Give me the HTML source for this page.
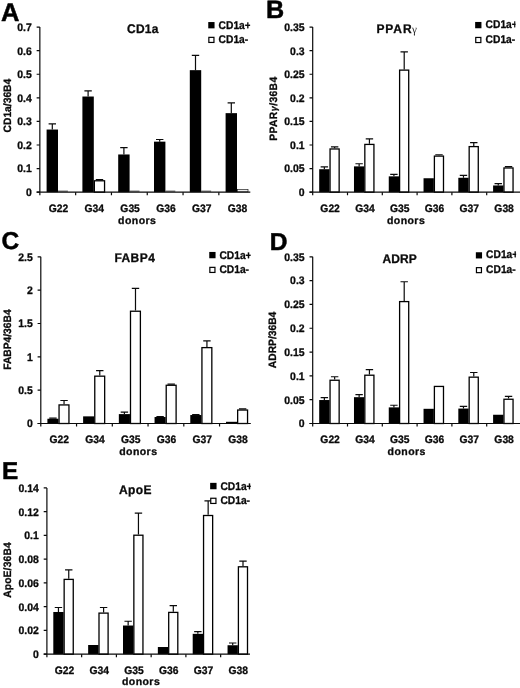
<!DOCTYPE html>
<html lang="en"><head><meta charset="utf-8"><title>Figure: CD1a, PPARγ, FABP4, ADRP, ApoE expression</title>
<style>
html,body{margin:0;padding:0;background:#fff;}
body{width:520px;height:688px;overflow:hidden;}
svg{display:block;filter:blur(0.4px);}
text{font-family:"Liberation Sans", Arial, Helvetica, sans-serif;font-weight:bold;fill:#0a0a0a;stroke:#0a0a0a;stroke-width:0.3px;stroke-linejoin:round;text-rendering:geometricPrecision;}
.t{font-size:10.9px;}
.xl{font-size:10.75px;}
.dn{font-size:10.5px;letter-spacing:0.45px;}
.yl{font-size:10.7px;}
.tt{font-size:12.5px;}
.L{fill:#000;stroke:#000;stroke-width:0.5px;}
.lg{font-size:11.15px;}
.gm{font-family:"Liberation Sans",sans-serif;font-weight:bold;font-style:italic;font-size:9.5px;}
.gt{font-family:"Liberation Serif","DejaVu Serif",serif;font-weight:normal;font-size:11.5px;stroke:none;fill:#222;}
.k{fill:#000;}
.w{fill:#fff;stroke:#000;stroke-width:1.3;}
.w2{fill:#eee;stroke:#222;stroke-width:0.7;}
.w3{fill:none;stroke:#333;stroke-width:0.9;}
.e{fill:none;stroke:#0a0a0a;stroke-width:1.2;}
.ax{fill:none;stroke:#0a0a0a;stroke-width:1.2;}
</style></head><body>
<svg width="520" height="688" viewBox="0 0 520 688">
<rect width="520" height="688" fill="#fff"/>
<g>
<path d="M52.3 129.54V123.84M48.6 123.84H56" class="e"/>
<rect x="46.6" y="129.54" width="11.4" height="62.61" class="k"/>
<path d="M58 191.15H67.9" class="w3"/>
<path d="M88.1 96.52V90.83M84.4 90.83H91.8" class="e"/>
<path d="M99.5 180.12V179.53M95.8 179.53H103.2" class="e"/>
<rect x="82.4" y="96.52" width="11.4" height="95.63" class="k"/>
<rect x="94.35" y="180.78" width="10.2" height="11.38" class="w"/>
<path d="M123.9 154.47V147.59M120.2 147.59H127.6" class="e"/>
<rect x="118.2" y="154.47" width="11.4" height="37.68" class="k"/>
<path d="M129.6 191.15H139.5" class="w3"/>
<path d="M159.7 141.65V139.51M156 139.51H163.4" class="e"/>
<rect x="154" y="141.65" width="11.4" height="50.5" class="k"/>
<path d="M165.4 191.15H175.3" class="w3"/>
<path d="M195.5 70.16V55.44M191.8 55.44H199.2" class="e"/>
<rect x="189.8" y="70.16" width="11.4" height="121.99" class="k"/>
<path d="M201.2 191.15H211.1" class="w3"/>
<path d="M231.3 113.15V102.94M227.6 102.94H235" class="e"/>
<rect x="225.6" y="113.15" width="11.4" height="79" class="k"/>
<rect x="237.4" y="189.56" width="10.6" height="2.29" class="w2"/>
<path d="M39.85 27.1V192.15M36.65 192.15H250.3" class="ax"/>
<text transform="translate(31.75 196) scale(0.96 1)" class="t" text-anchor="end">0</text>
<text transform="translate(31.75 172.42) scale(0.96 1)" class="t" text-anchor="end">0.1</text>
<text transform="translate(31.75 148.84) scale(0.96 1)" class="t" text-anchor="end">0.2</text>
<text transform="translate(31.75 125.26) scale(0.96 1)" class="t" text-anchor="end">0.3</text>
<text transform="translate(31.75 101.69) scale(0.96 1)" class="t" text-anchor="end">0.4</text>
<text transform="translate(31.75 78.11) scale(0.96 1)" class="t" text-anchor="end">0.5</text>
<text transform="translate(31.75 54.53) scale(0.96 1)" class="t" text-anchor="end">0.6</text>
<text transform="translate(31.75 30.95) scale(0.96 1)" class="t" text-anchor="end">0.7</text>
<path d="M36.65 192.15H39.85M36.65 168.57H39.85M36.65 144.99H39.85M36.65 121.41H39.85M36.65 97.84H39.85M36.65 74.26H39.85M36.65 50.68H39.85M36.65 27.1H39.85M39.85 192.15V195.25M75.65 192.15V195.25M111.45 192.15V195.25M147.25 192.15V195.25M183.05 192.15V195.25M218.85 192.15V195.25" class="ax"/>
<text transform="translate(58.5 212.15) scale(0.96 1)" class="xl" text-anchor="middle">G22</text>
<text transform="translate(94.3 212.15) scale(0.96 1)" class="xl" text-anchor="middle">G34</text>
<text transform="translate(130.1 212.15) scale(0.96 1)" class="xl" text-anchor="middle">G35</text>
<text transform="translate(165.9 212.15) scale(0.96 1)" class="xl" text-anchor="middle">G36</text>
<text transform="translate(201.7 212.15) scale(0.96 1)" class="xl" text-anchor="middle">G37</text>
<text transform="translate(237.5 212.15) scale(0.96 1)" class="xl" text-anchor="middle">G38</text>
<text transform="translate(118.1 223.5)" class="dn">donors</text>
<text transform="translate(11.1 105.6) rotate(-90) scale(0.96 1)" class="yl" text-anchor="middle">CD1a/36B4</text>
<text transform="translate(127 33.2) scale(0.96 1)" class="tt"><tspan letter-spacing="0.25">CD1a</tspan></text>
<text x="0.9" y="20.6" class="L" font-size="25.5">A</text>
<clipPath id="cA"><rect x="203.25" y="12.05" width="46.95" height="40"/></clipPath>
<g clip-path="url(#cA)">
<rect x="208.25" y="22.05" width="6.3" height="6.3" class="k"/>
<rect x="208.85" y="37.35" width="5.1" height="5.1" class="w" style="stroke-width:1.2"/>
<text transform="translate(218.6 28.8) scale(0.92 1)" class="lg">CD1a+</text>
<text transform="translate(218.6 43.2) scale(0.92 1)" class="lg">CD1a-</text>
</g>
</g>
<g>
<path d="M324.35 169.22V166.85M320.65 166.85H328.05" class="e"/>
<path d="M334.65 148.32V146.9M330.95 146.9H338.35" class="e"/>
<rect x="319.2" y="169.22" width="10.3" height="22.93" class="k"/>
<rect x="330.05" y="148.97" width="9.1" height="43.18" class="w"/>
<path d="M359.13 166.38V163.76M355.43 163.76H362.83" class="e"/>
<path d="M369.43 143.76V138.82M365.73 138.82H373.13" class="e"/>
<rect x="353.98" y="166.38" width="10.3" height="25.78" class="k"/>
<rect x="364.83" y="144.41" width="9.1" height="47.74" class="w"/>
<path d="M393.91 176.35V174.45M390.21 174.45H397.61" class="e"/>
<path d="M404.21 69.47V51.9M400.51 51.9H407.91" class="e"/>
<rect x="388.76" y="176.35" width="10.3" height="15.8" class="k"/>
<rect x="399.61" y="70.12" width="9.1" height="122.03" class="w"/>
<path d="M438.99 155.45V154.74M435.29 154.74H442.69" class="e"/>
<rect x="423.54" y="178.25" width="10.3" height="13.9" class="k"/>
<rect x="434.39" y="156.1" width="9.1" height="36.05" class="w"/>
<path d="M463.47 177.78V175.4M459.77 175.4H467.17" class="e"/>
<path d="M473.77 145.95V142.62M470.07 142.62H477.47" class="e"/>
<rect x="458.32" y="177.78" width="10.3" height="14.38" class="k"/>
<rect x="469.17" y="146.6" width="9.1" height="45.55" class="w"/>
<path d="M498.25 185.47V183.57M494.55 183.57H501.95" class="e"/>
<path d="M508.55 167.32V166.61M504.85 166.61H512.25" class="e"/>
<rect x="493.1" y="185.47" width="10.3" height="6.68" class="k"/>
<rect x="503.95" y="167.97" width="9.1" height="24.18" class="w"/>
<path d="M312.7 27.1V192.15M309.5 192.15H520" class="ax"/>
<text transform="translate(304.6 196) scale(0.96 1)" class="t" text-anchor="end">0</text>
<text transform="translate(304.6 172.42) scale(0.96 1)" class="t" text-anchor="end">0.05</text>
<text transform="translate(304.6 148.84) scale(0.96 1)" class="t" text-anchor="end">0.1</text>
<text transform="translate(304.6 125.26) scale(0.96 1)" class="t" text-anchor="end">0.15</text>
<text transform="translate(304.6 101.69) scale(0.96 1)" class="t" text-anchor="end">0.2</text>
<text transform="translate(304.6 78.11) scale(0.96 1)" class="t" text-anchor="end">0.25</text>
<text transform="translate(304.6 54.53) scale(0.96 1)" class="t" text-anchor="end">0.3</text>
<text transform="translate(304.6 30.95) scale(0.96 1)" class="t" text-anchor="end">0.35</text>
<path d="M309.5 192.15H312.7M309.5 168.57H312.7M309.5 144.99H312.7M309.5 121.41H312.7M309.5 97.84H312.7M309.5 74.26H312.7M309.5 50.68H312.7M309.5 27.1H312.7M312.7 192.15V195.25M347.5 192.15V195.25M382.3 192.15V195.25M417.1 192.15V195.25M451.9 192.15V195.25M486.7 192.15V195.25" class="ax"/>
<text transform="translate(330.1 212.45) scale(0.96 1)" class="xl" text-anchor="middle">G22</text>
<text transform="translate(364.9 212.45) scale(0.96 1)" class="xl" text-anchor="middle">G34</text>
<text transform="translate(399.7 212.45) scale(0.96 1)" class="xl" text-anchor="middle">G35</text>
<text transform="translate(434.5 212.45) scale(0.96 1)" class="xl" text-anchor="middle">G36</text>
<text transform="translate(469.3 212.45) scale(0.96 1)" class="xl" text-anchor="middle">G37</text>
<text transform="translate(504.1 212.45) scale(0.96 1)" class="xl" text-anchor="middle">G38</text>
<text transform="translate(386.9 223.6)" class="dn">donors</text>
<text transform="translate(277.2 108.6) rotate(-90) scale(0.96 1)" class="yl" text-anchor="middle"><tspan letter-spacing="0.42">PPAR<tspan class="gm">γ</tspan>/36B4</tspan></text>
<text transform="translate(376.4 33) scale(0.96 1)" class="tt"><tspan letter-spacing="0.95">PPAR</tspan><tspan class="gt" dx="-0.6">γ</tspan></text>
<text x="265.9" y="18.2" class="L" font-size="25.2">B</text>
<clipPath id="cB"><rect x="470.15" y="11.95" width="45.45" height="40"/></clipPath>
<g clip-path="url(#cB)">
<rect x="475.15" y="21.95" width="6.3" height="6.3" class="k"/>
<rect x="475.75" y="37.45" width="5.1" height="5.1" class="w" style="stroke-width:1.2"/>
<text transform="translate(485.6 28.3) scale(0.92 1)" class="lg">CD1a+</text>
<text transform="translate(485.6 43) scale(0.92 1)" class="lg">CD1a-</text>
</g>
</g>
<g>
<path d="M52.95 418.75V418.22M49.25 418.22H56.65" class="e"/>
<path d="M64.05 404.28V400.49M60.35 400.49H67.75" class="e"/>
<rect x="47.4" y="418.75" width="11.1" height="4.75" class="k"/>
<rect x="59.05" y="404.93" width="9.9" height="18.57" class="w"/>
<path d="M99.77 375.52V370.54M96.07 370.54H103.47" class="e"/>
<rect x="83.12" y="416.36" width="11.1" height="7.14" class="k"/>
<rect x="94.77" y="376.17" width="9.9" height="47.33" class="w"/>
<path d="M124.39 414.1V412.18M120.69 412.18H128.09" class="e"/>
<path d="M135.49 310.58V288.47M131.79 288.47H139.19" class="e"/>
<rect x="118.84" y="414.1" width="11.1" height="9.4" class="k"/>
<rect x="130.49" y="311.23" width="9.9" height="112.27" class="w"/>
<path d="M160.11 417.02V416.63M156.41 416.63H163.81" class="e"/>
<path d="M171.21 384.62V384.22M167.51 384.22H174.91" class="e"/>
<rect x="154.56" y="417.02" width="11.1" height="6.48" class="k"/>
<rect x="166.21" y="385.27" width="9.9" height="38.23" class="w"/>
<path d="M195.83 415.03V414.63M192.13 414.63H199.53" class="e"/>
<path d="M206.93 346.97V340.8M203.23 340.8H210.63" class="e"/>
<rect x="190.28" y="415.03" width="11.1" height="8.47" class="k"/>
<rect x="201.93" y="347.62" width="9.9" height="75.88" class="w"/>
<path d="M242.65 409.39V408.92M238.95 408.92H246.35" class="e"/>
<rect x="226" y="421.8" width="11.1" height="1.7" class="k"/>
<rect x="237.65" y="410.04" width="9.9" height="13.46" class="w"/>
<path d="M40.8 256.8V423.5M37.6 423.5H250.8" class="ax"/>
<text transform="translate(32.7 427.35) scale(0.96 1)" class="t" text-anchor="end">0</text>
<text transform="translate(32.7 394.01) scale(0.96 1)" class="t" text-anchor="end">0.5</text>
<text transform="translate(32.7 360.67) scale(0.96 1)" class="t" text-anchor="end">1</text>
<text transform="translate(32.7 327.33) scale(0.96 1)" class="t" text-anchor="end">1.5</text>
<text transform="translate(32.7 293.99) scale(0.96 1)" class="t" text-anchor="end">2</text>
<text transform="translate(32.7 260.65) scale(0.96 1)" class="t" text-anchor="end">2.5</text>
<path d="M37.6 423.5H40.8M37.6 390.16H40.8M37.6 356.82H40.8M37.6 323.48H40.8M37.6 290.14H40.8M37.6 256.8H40.8M40.8 423.5V426.6M76.55 423.5V426.6M112.3 423.5V426.6M148.05 423.5V426.6M183.8 423.5V426.6M219.55 423.5V426.6" class="ax"/>
<text transform="translate(59.27 443.2) scale(0.96 1)" class="xl" text-anchor="middle">G22</text>
<text transform="translate(95.02 443.2) scale(0.96 1)" class="xl" text-anchor="middle">G34</text>
<text transform="translate(130.78 443.2) scale(0.96 1)" class="xl" text-anchor="middle">G35</text>
<text transform="translate(166.53 443.2) scale(0.96 1)" class="xl" text-anchor="middle">G36</text>
<text transform="translate(202.28 443.2) scale(0.96 1)" class="xl" text-anchor="middle">G37</text>
<text transform="translate(238.03 443.2) scale(0.96 1)" class="xl" text-anchor="middle">G38</text>
<text transform="translate(119.15 455)" class="dn">donors</text>
<text transform="translate(11.2 339.6) rotate(-90) scale(0.96 1)" class="yl" text-anchor="middle">FABP4/36B4</text>
<text transform="translate(114.4 262.3) scale(0.96 1)" class="tt"><tspan letter-spacing="0.45">FABP4</tspan></text>
<text x="1.5" y="249" class="L" font-size="24.5">C</text>
<clipPath id="cC"><rect x="204.25" y="241.95" width="46.35" height="40"/></clipPath>
<g clip-path="url(#cC)">
<rect x="209.25" y="251.95" width="6.3" height="6.3" class="k"/>
<rect x="209.85" y="267.35" width="5.1" height="5.1" class="w" style="stroke-width:1.2"/>
<text transform="translate(219.4 258.5) scale(0.92 1)" class="lg">CD1a+</text>
<text transform="translate(219.4 273.2) scale(0.92 1)" class="lg">CD1a-</text>
</g>
</g>
<g>
<path d="M324.35 400.03V397.65M320.65 397.65H328.05" class="e"/>
<path d="M334.65 379.6V376.75M330.95 376.75H338.35" class="e"/>
<rect x="319.2" y="400.03" width="10.3" height="23.47" class="k"/>
<rect x="330.05" y="380.25" width="9.1" height="43.25" class="w"/>
<path d="M359.13 397.18V394.56M355.43 394.56H362.83" class="e"/>
<path d="M369.43 374.56V369.62M365.73 369.62H373.13" class="e"/>
<rect x="353.98" y="397.18" width="10.3" height="26.32" class="k"/>
<rect x="364.83" y="375.21" width="9.1" height="48.29" class="w"/>
<path d="M393.91 407.39V405.25M390.21 405.25H397.61" class="e"/>
<path d="M404.21 300.94V281.75M400.51 281.75H407.91" class="e"/>
<rect x="388.76" y="407.39" width="10.3" height="16.11" class="k"/>
<rect x="399.61" y="301.59" width="9.1" height="121.91" class="w"/>
<rect x="423.54" y="408.81" width="10.3" height="14.69" class="k"/>
<rect x="434.39" y="386.43" width="9.1" height="37.07" class="w"/>
<path d="M463.47 408.57V406.44M459.77 406.44H467.17" class="e"/>
<path d="M473.77 376.51V372.48M470.07 372.48H477.47" class="e"/>
<rect x="458.32" y="408.57" width="10.3" height="14.93" class="k"/>
<rect x="469.17" y="377.16" width="9.1" height="46.34" class="w"/>
<path d="M508.55 398.6V396.46M504.85 396.46H512.25" class="e"/>
<rect x="493.1" y="414.75" width="10.3" height="8.75" class="k"/>
<rect x="503.95" y="399.25" width="9.1" height="24.25" class="w"/>
<path d="M312.7 256.8V423.5M309.5 423.5H520" class="ax"/>
<text transform="translate(304.6 427.35) scale(0.96 1)" class="t" text-anchor="end">0</text>
<text transform="translate(304.6 403.54) scale(0.96 1)" class="t" text-anchor="end">0.05</text>
<text transform="translate(304.6 379.72) scale(0.96 1)" class="t" text-anchor="end">0.1</text>
<text transform="translate(304.6 355.91) scale(0.96 1)" class="t" text-anchor="end">0.15</text>
<text transform="translate(304.6 332.09) scale(0.96 1)" class="t" text-anchor="end">0.2</text>
<text transform="translate(304.6 308.28) scale(0.96 1)" class="t" text-anchor="end">0.25</text>
<text transform="translate(304.6 284.46) scale(0.96 1)" class="t" text-anchor="end">0.3</text>
<text transform="translate(304.6 260.65) scale(0.96 1)" class="t" text-anchor="end">0.35</text>
<path d="M309.5 423.5H312.7M309.5 399.69H312.7M309.5 375.87H312.7M309.5 352.06H312.7M309.5 328.24H312.7M309.5 304.43H312.7M309.5 280.61H312.7M309.5 256.8H312.7M312.7 423.5V426.6M347.5 423.5V426.6M382.3 423.5V426.6M417.1 423.5V426.6M451.9 423.5V426.6M486.7 423.5V426.6" class="ax"/>
<text transform="translate(330.1 442.8) scale(0.96 1)" class="xl" text-anchor="middle">G22</text>
<text transform="translate(364.9 442.8) scale(0.96 1)" class="xl" text-anchor="middle">G34</text>
<text transform="translate(399.7 442.8) scale(0.96 1)" class="xl" text-anchor="middle">G35</text>
<text transform="translate(434.5 442.8) scale(0.96 1)" class="xl" text-anchor="middle">G36</text>
<text transform="translate(469.3 442.8) scale(0.96 1)" class="xl" text-anchor="middle">G37</text>
<text transform="translate(504.1 442.8) scale(0.96 1)" class="xl" text-anchor="middle">G38</text>
<text transform="translate(387.6 455.05)" class="dn">donors</text>
<text transform="translate(276.1 339.9) rotate(-90) scale(0.96 1)" class="yl" text-anchor="middle">ADRP/36B4</text>
<text transform="translate(382.5 262.5) scale(0.96 1)" class="tt"><tspan letter-spacing="0.1">ADRP</tspan></text>
<text x="269.7" y="249.7" class="L" font-size="24.5">D</text>
<clipPath id="cD"><rect x="470.85" y="242.25" width="45.25" height="40"/></clipPath>
<g clip-path="url(#cD)">
<rect x="475.85" y="252.25" width="6.2" height="6.2" class="k"/>
<rect x="476.45" y="267.65" width="5" height="5" class="w" style="stroke-width:1.2"/>
<text transform="translate(486.1 258.3) scale(0.92 1)" class="lg">CD1a+</text>
<text transform="translate(486.1 273) scale(0.92 1)" class="lg">CD1a-</text>
</g>
</g>
<g>
<path d="M58.45 611.99V607.48M54.75 607.48H62.15" class="e"/>
<path d="M68.75 578.74V569.95M65.05 569.95H72.45" class="e"/>
<rect x="53.3" y="611.99" width="10.3" height="42.21" class="k"/>
<rect x="64.15" y="579.39" width="9.1" height="74.81" class="w"/>
<path d="M103.6 612.46V607.48M99.9 607.48H107.3" class="e"/>
<rect x="88.15" y="645" width="10.3" height="9.2" class="k"/>
<rect x="99" y="613.11" width="9.1" height="41.09" class="w"/>
<path d="M128.15 625.52V621.25M124.45 621.25H131.85" class="e"/>
<path d="M138.45 534.56V513.19M134.75 513.19H142.15" class="e"/>
<rect x="123" y="625.52" width="10.3" height="28.68" class="k"/>
<rect x="133.85" y="535.21" width="9.1" height="118.99" class="w"/>
<path d="M173.3 611.75V605.58M169.6 605.58H177" class="e"/>
<rect x="157.85" y="647.02" width="10.3" height="7.18" class="k"/>
<rect x="168.7" y="612.4" width="9.1" height="41.8" class="w"/>
<path d="M197.85 633.84V631.7M194.15 631.7H201.55" class="e"/>
<path d="M208.15 514.85V500.84M204.45 500.84H211.85" class="e"/>
<rect x="192.7" y="633.84" width="10.3" height="20.36" class="k"/>
<rect x="203.55" y="515.5" width="9.1" height="138.7" class="w"/>
<path d="M232.7 645.24V642.98M229 642.98H236.4" class="e"/>
<path d="M243 566.15V561.04M239.3 561.04H246.7" class="e"/>
<rect x="227.55" y="645.24" width="10.3" height="8.96" class="k"/>
<rect x="238.4" y="566.8" width="9.1" height="87.4" class="w"/>
<path d="M46.9 487.9V654.2M43.7 654.2H250" class="ax"/>
<text transform="translate(38.8 658.05) scale(0.96 1)" class="t" text-anchor="end">0</text>
<text transform="translate(38.8 634.29) scale(0.96 1)" class="t" text-anchor="end">0.02</text>
<text transform="translate(38.8 610.54) scale(0.96 1)" class="t" text-anchor="end">0.04</text>
<text transform="translate(38.8 586.78) scale(0.96 1)" class="t" text-anchor="end">0.06</text>
<text transform="translate(38.8 563.02) scale(0.96 1)" class="t" text-anchor="end">0.08</text>
<text transform="translate(38.8 539.26) scale(0.96 1)" class="t" text-anchor="end">0.1</text>
<text transform="translate(38.8 515.51) scale(0.96 1)" class="t" text-anchor="end">0.12</text>
<text transform="translate(38.8 491.75) scale(0.96 1)" class="t" text-anchor="end">0.14</text>
<path d="M43.7 654.2H46.9M43.7 630.44H46.9M43.7 606.69H46.9M43.7 582.93H46.9M43.7 559.17H46.9M43.7 535.41H46.9M43.7 511.66H46.9M43.7 487.9H46.9M46.9 654.2V657.3M81.65 654.2V657.3M116.4 654.2V657.3M151.15 654.2V657.3M185.9 654.2V657.3M220.65 654.2V657.3" class="ax"/>
<text transform="translate(64.58 674.3) scale(0.96 1)" class="xl" text-anchor="middle">G22</text>
<text transform="translate(99.33 674.3) scale(0.96 1)" class="xl" text-anchor="middle">G34</text>
<text transform="translate(134.08 674.3) scale(0.96 1)" class="xl" text-anchor="middle">G35</text>
<text transform="translate(168.83 674.3) scale(0.96 1)" class="xl" text-anchor="middle">G36</text>
<text transform="translate(203.58 674.3) scale(0.96 1)" class="xl" text-anchor="middle">G37</text>
<text transform="translate(238.33 674.3) scale(0.96 1)" class="xl" text-anchor="middle">G38</text>
<text transform="translate(121.9 685.45)" class="dn">donors</text>
<text transform="translate(11 570) rotate(-90) scale(0.96 1)" class="yl" text-anchor="middle"><tspan letter-spacing="0.18">ApoE/36B4</tspan></text>
<text transform="translate(119 493.8) scale(0.96 1)" class="tt"><tspan letter-spacing="0.45">ApoE</tspan></text>
<text x="1.9" y="479" class="L" font-size="24.3">E</text>
<clipPath id="cE"><rect x="205.15" y="472.85" width="45.65" height="40"/></clipPath>
<g clip-path="url(#cE)">
<rect x="210.15" y="482.85" width="6.4" height="6.4" class="k"/>
<rect x="210.75" y="498.25" width="5.2" height="5.2" class="w" style="stroke-width:1.2"/>
<text transform="translate(220.4 489.6) scale(0.92 1)" class="lg">CD1a+</text>
<text transform="translate(220.4 504.3) scale(0.92 1)" class="lg">CD1a-</text>
</g>
</g>
</svg>
</body></html>
